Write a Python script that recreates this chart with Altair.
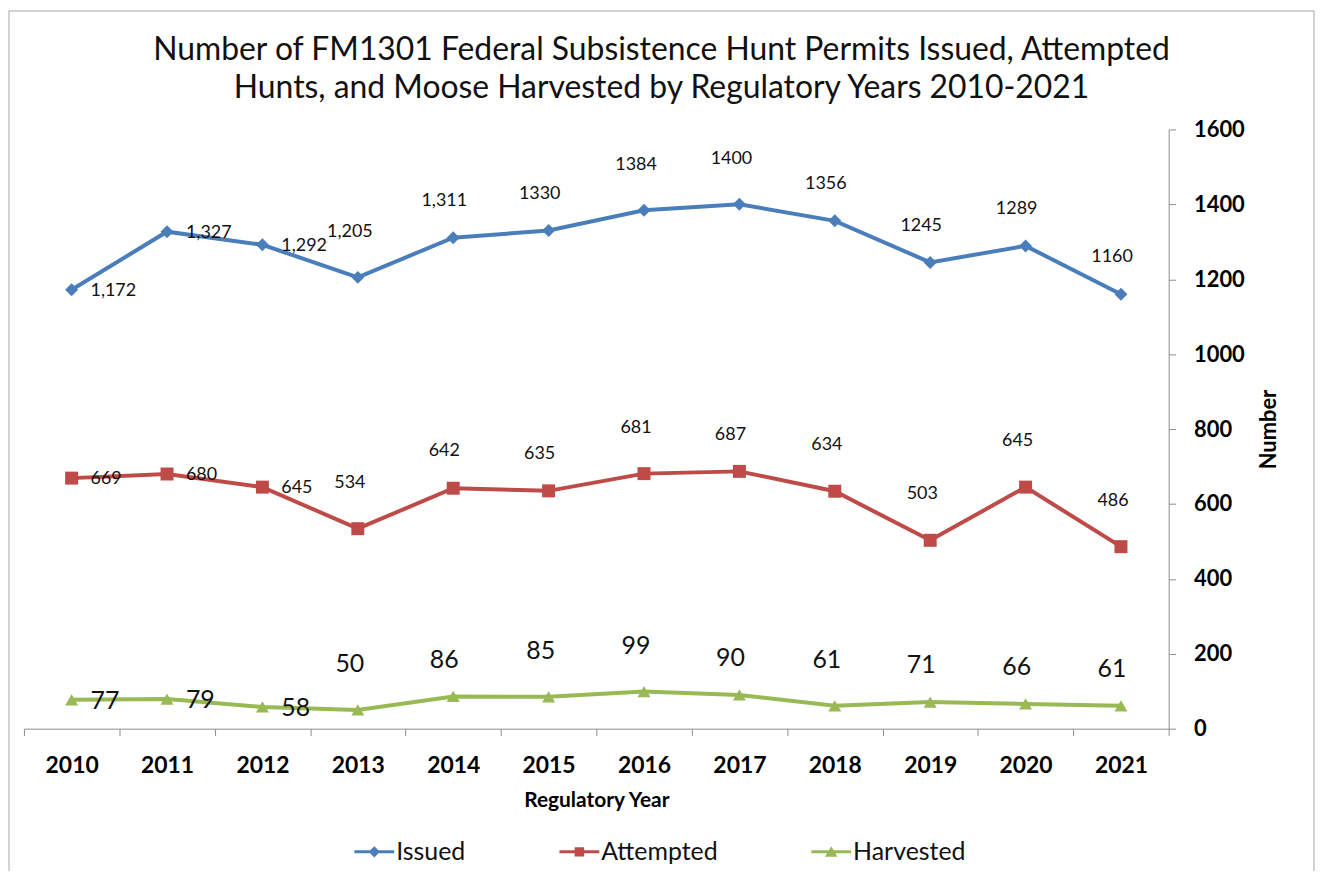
import altair as alt
import pandas as pd

years = [str(y) for y in range(2010, 2022)]
series_names = ["Issued", "Attempted", "Harvested"]
issued = [1172, 1327, 1292, 1205, 1311, 1330, 1384, 1400, 1356, 1245, 1289, 1160]
attempted = [669, 680, 645, 534, 642, 635, 681, 687, 634, 503, 645, 486]
harvested = [77, 79, 58, 50, 86, 85, 99, 90, 61, 71, 66, 61]
issued_labels = ["1,172", "1,327", "1,292", "1,205", "1,311", "1330",
                 "1384", "1400", "1356", "1245", "1289", "1160"]
# label placement: r = right of point, a = above, h = higher above
issued_place = ["r", "r", "r", "h", "a", "a", "h", "h", "a", "a", "a", "a"]
attempted_place = ["r", "r", "r", "h", "a", "a", "h", "a", "h", "h", "h", "h"]
harvested_place = ["r", "r", "r", "h", "a", "h", "h", "a", "h", "a", "a", "a"]
colors = ["#4A7EBB", "#BE4B48", "#98B954"]
y_ticks = [0, 200, 400, 600, 800, 1000, 1200, 1400, 1600]

title_lines = ["Number of FM1301 Federal Subsistence Hunt Permits Issued, Attempted",
               "Hunts, and Moose Harvested by Regulatory Years 2010-2021"]

rows = []
for name, vals, labels, places in [
    ("Issued", issued, issued_labels, issued_place),
    ("Attempted", attempted, [str(v) for v in attempted], attempted_place),
    ("Harvested", harvested, [str(v) for v in harvested], harvested_place),
]:
    for yr, v, lab, p in zip(years, vals, labels, places):
        rows.append({"year": yr, "series": name, "value": v, "label": lab, "place": p})
df = pd.DataFrame(rows)

FONT = "Lato"
AXIS_GRAY = "#8C8C8C"

x_enc = alt.X(
    "year:O",
    sort=years,
    scale=alt.Scale(type="band", paddingInner=0, paddingOuter=0),
    axis=alt.Axis(
        title="Regulatory Year", labelAngle=0, tickBand="extent",
        labelFont=FONT, labelFontSize=23, labelFontWeight="bold", labelColor="#000000",
        labelPadding=19, tickSize=7, tickColor=AXIS_GRAY, domainColor=AXIS_GRAY,
        titleFont=FONT, titleFontSize=21, titleFontWeight="bold", titleColor="#000000",
        titlePadding=12, grid=False,
    ),
)
y_enc = alt.Y(
    "value:Q",
    scale=alt.Scale(domain=[0, 1600], nice=False),
    axis=alt.Axis(
        orient="right", values=y_ticks, format="d", title="Number", titleAngle=270,
        labelFont=FONT, labelFontSize=22, labelFontWeight="bold", labelColor="#000000",
        labelPadding=18, tickSize=7, tickColor=AXIS_GRAY, domainColor=AXIS_GRAY,
        titleFont=FONT, titleFontSize=22, titleFontWeight="bold", titleColor="#000000",
        titlePadding=36, grid=False,
    ),
)

color_scale = alt.Scale(domain=series_names, range=colors)

base = alt.Chart(df)

lines = base.mark_line(strokeWidth=4).encode(
    x=x_enc, y=y_enc,
    color=alt.Color("series:N", scale=color_scale, legend=None),
)

points = base.mark_point(filled=True, size=170, opacity=1).encode(
    x=x_enc, y=y_enc,
    color=alt.Color("series:N", scale=color_scale, legend=None),
    shape=alt.Shape("series:N", scale=alt.Scale(domain=series_names,
                                                range=["diamond", "square", "triangle-up"]),
                    legend=None),
)

size_cond = alt.condition(alt.datum.series == "Harvested", alt.value(25), alt.value(18))

text_right = base.transform_filter(alt.datum.place == "r").mark_text(
    align="left", baseline="middle", dx=19, dy=1, font=FONT, color="#111111"
).encode(x=x_enc, y=y_enc, text="label:N", size=size_cond)

text_above = base.transform_filter(alt.datum.place == "a").mark_text(
    align="center", baseline="middle", dx=-9, dy=-37, font=FONT, color="#111111"
).encode(x=x_enc, y=y_enc, text="label:N", size=size_cond)

text_high = base.transform_filter(alt.datum.place == "h").mark_text(
    align="center", baseline="middle", dx=-8, dy=-46, font=FONT, color="#111111"
).encode(x=x_enc, y=y_enc, text="label:N", size=size_cond)

# legend symbols: line segment with marker
leg_paths = [
    "M-1,-0.12 L2.2,-0.12 L2.2,0.12 L-1,0.12 Z M0.6,-0.46 L1.06,0 L0.6,0.46 L0.14,0 Z",
    "M-1,-0.12 L2.2,-0.12 L2.2,0.12 L-1,0.12 Z M0.22,-0.38 L0.98,-0.38 L0.98,0.38 L0.22,0.38 Z",
    "M-1,-0.12 L2.2,-0.12 L2.2,0.12 L-1,0.12 Z M0.6,-0.46 L1.1,0.4 L0.1,0.4 Z",
]
legend_def = alt.Legend(
    title=None, orient="none", direction="horizontal", legendX=332, legendY=713,
    symbolSize=625, symbolStrokeWidth=0, labelOffset=17, columnPadding=94,
    labelFont=FONT, labelFontSize=25, labelColor="#111111",
)
legend_layer = base.transform_filter(alt.datum.value < 0).mark_point(
    filled=True, opacity=1
).encode(
    color=alt.Color("series:N", scale=alt.Scale(domain=series_names, range=colors),
                    legend=legend_def),
    shape=alt.Shape("series:N", scale=alt.Scale(domain=series_names, range=leg_paths),
                    legend=legend_def),
)

frame_data = alt.Chart(pd.DataFrame({"k": [0]}))
FRAME = "#A6A6A6"
frame_left = frame_data.mark_rule(color=FRAME, strokeWidth=1).encode(
    x=alt.value(-15), y=alt.value(-119), y2=alt.value(745))
frame_right = frame_data.mark_rule(color=FRAME, strokeWidth=1).encode(
    x=alt.value(1296), y=alt.value(-119), y2=alt.value(745))
frame_top = frame_data.mark_rule(color=FRAME, strokeWidth=1).encode(
    x=alt.value(-15), x2=alt.value(1296), y=alt.value(-119))

chart = alt.layer(
    frame_left, frame_right, frame_top,
    lines, points, text_right, text_above, text_high, legend_layer,
).resolve_scale(
    color="independent", shape="independent"
).properties(
    width=1150, height=602,
    padding=0,
    title=alt.TitleParams(
        text=title_lines, font=FONT, fontSize=32, fontWeight="normal",
        color="#111111", anchor="middle", frame="bounds", lineHeight=38, offset=-95,
    ),
).configure(font=FONT).configure_view(stroke="transparent", strokeWidth=0)

chart.save("out.html", embed_options={"renderer": "svg", "actions": False})
